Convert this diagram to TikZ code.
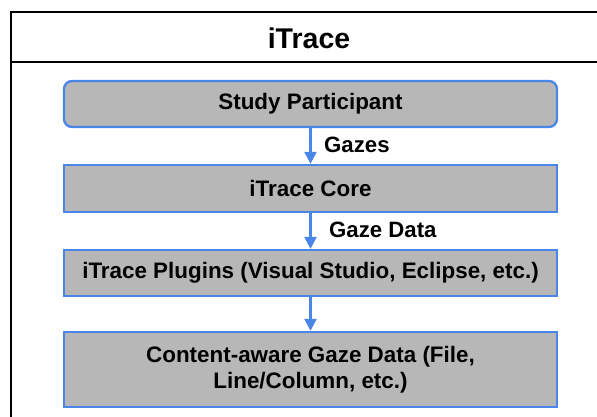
\documentclass[tikz,border=0pt]{standalone}
\usepackage{fontspec}
\setmainfont{Liberation Sans}
\usetikzlibrary{arrows.meta}
\definecolor{bblue}{HTML}{4A86E8}
\definecolor{bgray}{HTML}{B7B7B7}
\begin{document}
\begin{tikzpicture}[x=1pt,y=-1pt,
  box/.style={draw=bblue,fill=bgray,line width=2.3pt,minimum width=493pt,inner sep=0pt,
    font=\fontsize{22.4}{26}\selectfont\bfseries,align=center},
  arr/.style={draw=bblue,line width=2.3pt,-{Triangle[length=12pt,width=12pt]}},
  lbl/.style={anchor=west,inner sep=0pt,font=\fontsize{22.2}{26}\selectfont\bfseries},
  frame/.style={line width=2.2pt,black}]
\useasboundingbox (0,0) rectangle (597,416);
\begin{scope}
\clip (0,0) rectangle (597,416);
\draw[frame] (11,430) -- (11,12) -- (610,12);
\draw[frame] (11,62) -- (610,62);
\end{scope}
\node[font=\fontsize{28.5}{32}\selectfont\bfseries,inner sep=0pt] (title) at (309,38) {iTrace};
\node[box,rounded corners=8pt,minimum height=46pt] (b1) at (310.5,104) {Study Participant};
\node[box,minimum height=47pt] (b2) at (310.5,188.5) {iTrace Core};
\node[box,minimum height=46pt] (b3) at (310.5,273) {iTrace Plugins (Visual Studio, Eclipse, etc.)};
\node[box,minimum height=75pt] (b4) at (310.5,369.5) {Content-aware Gaze Data (File,\\Line/Column, etc.)};
\draw[arr] (b1) -- (b2);
\draw[arr] (b2) -- (b3);
\draw[arr] (b3) -- (b4);
\node[lbl] (l1) at (324,145) {Gazes};
\node[lbl] (l2) at (329,230) {Gaze Data};
\end{tikzpicture}
\end{document}
